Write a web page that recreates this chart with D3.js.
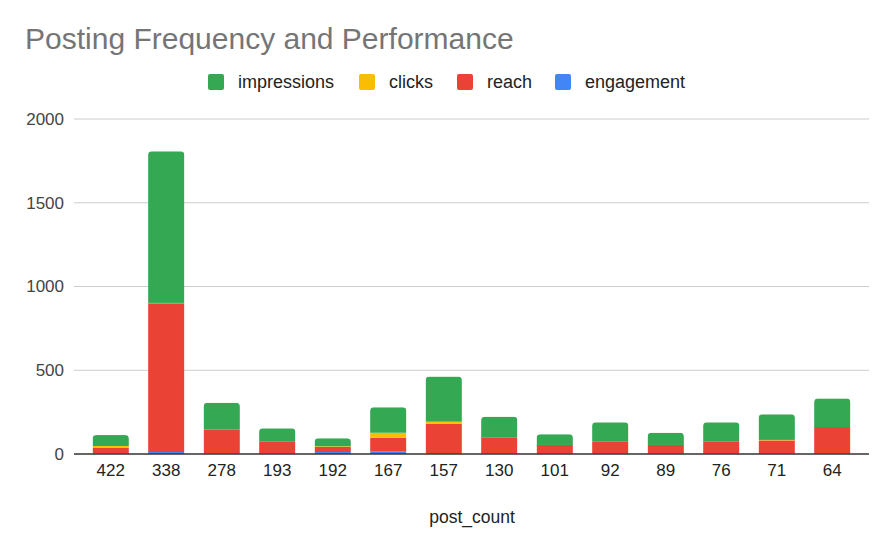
<!DOCTYPE html>
<html><head><meta charset="utf-8">
<script src="https://cdn.jsdelivr.net/npm/d3@7/dist/d3.min.js"></script>
<style>body{margin:0;background:#fff}svg{display:block}</style>
</head><body>
<script>
const categories = ["422","338","278","193","192","167","157","130","101","92","89","76","71","64"];
const engagement = [2,12,3,2,12,14,5,3,2,2,2,2,2,3];
const reach      = [36,888,144,71,30,83,176,94,52,71,52,71,79,158];
const clicks     = [10,2,0,0,4,30,12,0,0,0,0,0,3,0];
const impressions= [65,905,159,80,48,152,269,126,64,116,73,116,153,171];
const yTicks = [0,500,1000,1500,2000];
const seriesNames = ["engagement","reach","clicks","impressions"];
const colors = {impressions:"#34a853",clicks:"#fbbc04",reach:"#ea4335",engagement:"#4285f4"};
const legendOrder = ["impressions","clicks","reach","engagement"];

const W=893,H=552;
const svg=d3.select("body").append("svg").attr("width",W).attr("height",H);
const font="Arial, 'Liberation Sans', sans-serif";

const x=d3.scaleBand().domain(categories).range([74,869]).paddingInner(0.346).paddingOuter(0.335);
const y=d3.scaleLinear().domain([0,2000]).range([454,119]);

svg.append("g").selectAll("line").data(yTicks.filter(d=>d>0)).join("line")
  .attr("x1",74).attr("x2",869).attr("y1",d=>y(d)).attr("y2",d=>y(d))
  .attr("stroke","#cccccc").attr("stroke-width",1);

svg.append("g").selectAll("text").data(yTicks).join("text")
  .attr("x",64).attr("y",d=>y(d)).attr("dy","0.35em").attr("text-anchor","end")
  .attr("font-family",font).attr("font-size",17).attr("fill","#444")
  .text(d=>d);

const table=categories.map((c,i)=>({cat:c,engagement:engagement[i],reach:reach[i],clicks:clicks[i],impressions:impressions[i]}));
const stack=d3.stack().keys(seriesNames)(table);

const defs=svg.append("defs");
table.forEach((d,i)=>{
  const total=d.engagement+d.reach+d.clicks+d.impressions;
  defs.append("clipPath").attr("id","c"+i).append("rect")
    .attr("x",x(d.cat)).attr("width",x.bandwidth())
    .attr("y",y(total)).attr("height",y(0)-y(total)+10).attr("rx",4);
});

const bars=svg.append("g");
stack.forEach(s=>{
  bars.append("g").attr("fill",colors[s.key]).selectAll("rect").data(s).join("rect")
    .attr("clip-path",(d,i)=>`url(#c${i})`)
    .attr("x",d=>x(d.data.cat)).attr("width",x.bandwidth())
    .attr("y",d=>y(d[1])).attr("height",d=>Math.max(0,y(d[0])-y(d[1])));
});

svg.append("line").attr("x1",74).attr("x2",869).attr("y1",y(0)).attr("y2",y(0))
  .attr("stroke","#333").attr("stroke-width",1.3);

svg.append("g").selectAll("text").data(categories).join("text")
  .attr("x",d=>x(d)+x.bandwidth()/2).attr("y",476).attr("text-anchor","middle")
  .attr("font-family",font).attr("font-size",17).attr("fill","#222").text(d=>d);

svg.append("text").attr("x",472).attr("y",523).attr("text-anchor","middle")
  .attr("font-family",font).attr("font-size",17.5).attr("fill","#222").text("post_count");

svg.append("text").attr("x",25).attr("y",49).attr("font-family",font).attr("font-size",30)
  .attr("fill","#757575").text("Posting Frequency and Performance");

const legX=[208,359,457,555];
const lg=svg.append("g");
legendOrder.forEach((k,i)=>{
  lg.append("rect").attr("x",legX[i]).attr("y",74).attr("width",16).attr("height",16).attr("rx",2).attr("fill",colors[k]);
  lg.append("text").attr("x",legX[i]+30).attr("y",82).attr("dy","0.35em")
    .attr("font-family",font).attr("font-size",18).attr("fill","#222").text(k);
});
</script>
</body></html>
